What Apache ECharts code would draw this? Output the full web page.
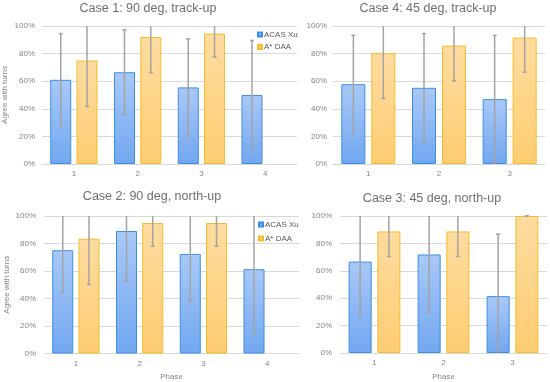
<!DOCTYPE html>
<html>
<head>
<meta charset="utf-8">
<script src="https://cdn.jsdelivr.net/npm/echarts@6/dist/echarts.min.js"></script>
<style>html,body{margin:0;padding:0;background:#fff;}#c{width:550px;height:382px;}</style>
</head>
<body>
<div id="c"></div>
<script>
// ---- data ----
const seriesNames = ['ACAS Xu', 'A* DAA'];
const yTicks = [0, 20, 40, 60, 80, 100];
const Y_MIN = 0, Y_MAX = 100;

const case1Cats = ['1', '2', '3', '4'];
const case1Acas = [61, 66.5, 55.5, 50];
const case1AcasErr = [33.5, 30.7, 35.2, 39.5];
const case1Daa = [75, 92, 94.5, null];
const case1DaaErr = [33.3, 25.8, 16.9, null];

const case4Cats = ['1', '2', '3'];
const case4Acas = [57.8, 55.2, 47];
const case4AcasErr = [35.5, 39.3, 46.2];
const case4Daa = [80.2, 85.8, 91.6];
const case4DaaErr = [32.7, 25.6, 25.1];

const case2Cats = ['1', '2', '3', '4'];
const case2Acas = [75.1, 89.1, 72.4, 61.3];
const case2AcasErr = [30.5, 36.3, 34.1, 47.3];
const case2Daa = [83.5, 94.9, 94.9, null];
const case2DaaErr = [33.4, 16.9, 16.9, null];

const case3Cats = ['1', '2', '3'];
const case3Acas = [66.7, 71.9, 41.5];
const case3AcasErr = [39.6, 42.2, 45.3];
const case3Daa = [88.7, 88.7, 100];
const case3DaaErr = [18.2, 18.2, 0];

const titles = ['Case 1: 90 deg, track-up', 'Case 4: 45 deg, track-up', 'Case 2: 90 deg, north-up', 'Case 3: 45 deg, north-up'];
const yName = 'Agree with turns';
const xName = 'Phase';

// ---- styles ----
const FONT = 'Liberation Sans, Arial, sans-serif';
const blueFill = new echarts.graphic.LinearGradient(0, 0, 0, 1, [
  {offset: 0, color: '#a9c9f7'}, {offset: 1, color: '#72a7f0'}]);
const orangeFill = new echarts.graphic.LinearGradient(0, 0, 0, 1, [
  {offset: 0, color: '#fedca0'}, {offset: 1, color: '#fecd72'}]);
const BAR_GAP = 0.25;

const panels = [
  {cats: case1Cats, a: case1Acas, ae: case1AcasErr, d: case1Daa, de: case1DaaErr,
   grid: {left: 40, top: 26, width: 257, height: 138}, barW: 21, labelMargin: 7,
   title: {x: 148, y: 2}, yName: true, xName: false, legend: {left: 257, top: 30.5, gap: 4.5}},
  {cats: case4Cats, a: case4Acas, ae: case4AcasErr, d: case4Daa, de: case4DaaErr,
   grid: {left: 333, top: 26, width: 212, height: 138}, barW: 24, labelMargin: 6,
   title: {x: 428, y: 2}, yName: false, xName: false},
  {cats: case2Cats, a: case2Acas, ae: case2AcasErr, d: case2Daa, de: case2DaaErr,
   grid: {left: 44, top: 216, width: 255, height: 137.5}, barW: 21, labelMargin: 8,
   title: {x: 152, y: 190}, yName: true, xName: true, xNameGap: 19, legend: {left: 258, top: 220.5, gap: 6}},
  {cats: case3Cats, a: case3Acas, ae: case3AcasErr, d: case3Daa, de: case3DaaErr,
   grid: {left: 340, top: 216, width: 207, height: 139}, barW: 23, labelMargin: 8,
   title: {x: 432, y: 192}, yName: false, xName: true, xNameGap: 20}
];

function errRender(sign, barW) {
  return function (params, api) {
    const cat = api.value(0), v = api.value(1), e = api.value(2);
    if (v == null || isNaN(v) || e == null || isNaN(e)) return null;
    const lo = Math.max(Y_MIN, v - e), hi = Math.min(Y_MAX, v + e);
    const pLo = api.coord([cat, lo]);
    const pHi = api.coord([cat, hi]);
    const x = pLo[0] + sign * barW * (1 + BAR_GAP) / 2;
    const st = {stroke: '#a3a3a3', lineWidth: 1.5};
    const children = [{type: 'line', shape: {x1: x, y1: pLo[1], x2: x, y2: pHi[1]}, style: st}];
    if (v + e <= Y_MAX) children.push({type: 'line', shape: {x1: x - 2, y1: pHi[1], x2: x + 2, y2: pHi[1]}, style: st});
    if (v - e >= Y_MIN) children.push({type: 'line', shape: {x1: x - 2, y1: pLo[1], x2: x + 2, y2: pLo[1]}, style: st});
    return {type: 'group', children: children};
  };
}

const option = {
  animation: false,
  backgroundColor: '#fff',
  textStyle: {fontFamily: FONT},
  title: [], legend: [], grid: [], xAxis: [], yAxis: [], series: []
};

panels.forEach((p, i) => {
  option.title.push({
    text: titles[i], left: p.title.x, top: p.title.y, textAlign: 'center', padding: 0,
    textStyle: {fontFamily: FONT, fontSize: 12.5, fontWeight: 'normal', color: '#6e6e6e'}
  });
  option.grid.push(Object.assign({containLabel: false}, p.grid));
  option.xAxis.push({
    type: 'category', gridIndex: i, data: p.cats,
    axisLine: {show: true, lineStyle: {color: '#d9d9d9', width: 1}},
    axisTick: {show: false},
    axisLabel: {color: '#858585', fontSize: 8, fontFamily: FONT, margin: 6},
    name: p.xName ? xName : '', nameLocation: 'middle', nameGap: p.xNameGap || 20,
    nameTextStyle: {color: '#858585', fontSize: 8, fontFamily: FONT}
  });
  option.yAxis.push({
    type: 'value', gridIndex: i, min: Y_MIN, max: Y_MAX, interval: yTicks[1] - yTicks[0],
    axisLine: {show: false}, axisTick: {show: false},
    splitLine: {lineStyle: {color: '#d9d9d9', width: 1}},
    axisLabel: {color: '#858585', fontSize: 8, fontFamily: FONT, margin: p.labelMargin, formatter: '{value}%'},
    name: p.yName ? yName : '', nameLocation: 'middle', nameGap: 33,
    nameTextStyle: {color: '#858585', fontSize: 8, fontFamily: FONT}
  });
  option.series.push({
    name: seriesNames[0], type: 'bar', xAxisIndex: i, yAxisIndex: i, data: p.a,
    barWidth: p.barW, barGap: (BAR_GAP * 100) + '%',
    itemStyle: {color: blueFill, borderColor: '#3a8ee6', borderWidth: 1}
  });
  option.series.push({
    name: seriesNames[1], type: 'bar', xAxisIndex: i, yAxisIndex: i, data: p.d,
    barWidth: p.barW, barGap: (BAR_GAP * 100) + '%',
    itemStyle: {color: orangeFill, borderColor: '#f9bb2b', borderWidth: 1}
  });
  option.series.push({
    type: 'custom', xAxisIndex: i, yAxisIndex: i, z: 5, silent: true,
    data: p.a.map((v, k) => [k, v, p.ae[k]]), renderItem: errRender(-1, p.barW)
  });
  option.series.push({
    type: 'custom', xAxisIndex: i, yAxisIndex: i, z: 5, silent: true,
    data: p.d.map((v, k) => [k, v, p.de[k]]), renderItem: errRender(1, p.barW)
  });
  if (p.legend) {
    option.legend.push({
      data: seriesNames, orient: 'vertical', left: p.legend.left, top: p.legend.top,
      padding: 0, itemWidth: 4, itemHeight: 4, itemGap: p.legend.gap, icon: 'rect',
      selectedMode: false,
      textStyle: {color: '#595959', fontSize: 8, fontFamily: FONT, lineHeight: 8, padding: [0, 0, 0, -3]}
    });
  }
});

const chart = echarts.init(document.getElementById('c'), null, {renderer: 'canvas'});
chart.setOption(option);
</script>
</body>
</html>
